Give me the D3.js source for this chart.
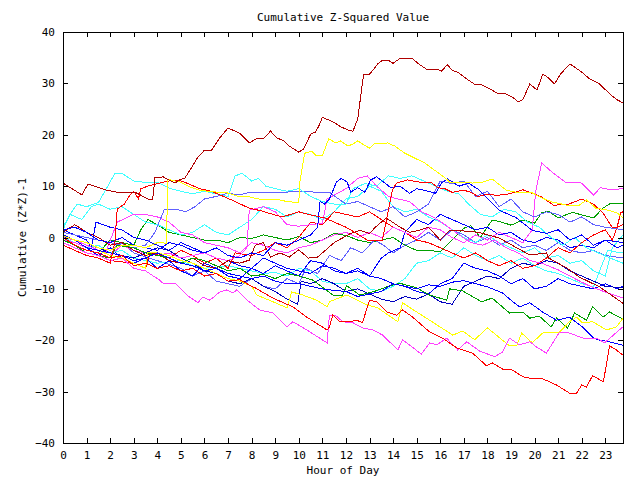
<!DOCTYPE html>
<html><head><meta charset="utf-8">
<script src="https://cdn.jsdelivr.net/npm/d3@7"></script>
<style>
body{margin:0;background:#fff;}
svg text{font-family:"DejaVu Sans Mono",monospace;font-size:11px;fill:#000;}
</style></head><body>
<svg id="c" width="640" height="480"></svg>
<script>
const chartTitle = "Cumulative Z-Squared Value";
const xTitle = "Hour of Day";
const yTitle = "Cumulative (Z*Z)-1";
const hourTicks = [0,1,2,3,4,5,6,7,8,9,10,11,12,13,14,15,16,17,18,19,20,21,22,23];
const valueTicks = [-40,-30,-20,-10,0,10,20,30,40];
const hourDomain = [0, 23.75];
const valueDomain = [-40, 40];

// each series: [hour, cumulative value]
const darkRedTop = [[0,10.6],[0.8,8.3],[1.06,10.4],[1.86,9.2],[2.4,8.7],[3.1,8.7],[3.7,7.3],[3.8,7.3],[3.9,11.6],[4.25,11.8],[4.5,11.2],[4.75,10.6],[4.95,11.2],[5.17,11.6],[5.47,13.7],[5.7,15.5],[6.0,17.0],[6.3,17.0],[6.65,19.4],[7.0,21.3],[7.5,20.3],[7.9,18.4],[8.2,19.2],[8.5,19.2],[8.8,20.7],[9.07,19.4],[9.36,18.8],[9.6,17.8],[10.0,16.6],[10.2,17.2],[10.5,20.1],[10.7,20.5],[10.85,21.7],[11.0,23.4],[11.2,23.0],[11.5,22.4],[11.8,21.5],[12.1,20.9],[12.3,20.7],[12.5,23.1],[12.6,26.6],[12.75,31.8],[13.0,31.8],[13.15,32.6],[13.35,33.8],[13.55,34.5],[13.8,34.5],[14.0,33.9],[14.3,34.9],[14.8,34.9],[15.05,33.9],[15.4,32.8],[15.6,32.6],[15.85,32.8],[16.05,32.4],[16.3,33.6],[16.5,32.6],[16.8,32.0],[17.2,30.6],[17.5,29.7],[17.75,29.7],[18.2,28.7],[18.4,28.1],[18.7,28.1],[19.07,27.3],[19.3,26.4],[19.5,26.8],[19.8,29.9],[20.1,28.7],[20.35,31.8],[20.55,31.2],[20.85,29.9],[21.1,31.8],[21.5,33.8],[22.0,32.2],[22.3,31.0],[22.75,29.9],[23.2,27.9],[23.5,26.8],[23.75,26.2]];
const yellowTop = [[0,0.3],[0.5,-0.5],[1,-1],[1.5,-2],[2,-2.5],[2.5,-1.5],[3,-1.5],[3.5,-2],[4,-1],[4.38,-1.1],[4.45,11.2],[4.55,11.2],[4.95,10.8],[5.4,9.8],[5.8,9.2],[6.35,8.9],[6.95,8.7],[7.5,7.9],[7.9,7.9],[8.5,7.3],[9,7.5],[9.5,7.0],[10.0,6.8],[10.05,11],[10.25,16.4],[10.55,16.8],[10.75,15.9],[11.0,15.9],[11.27,19.2],[11.57,18.4],[11.78,18.8],[12.08,17.8],[12.3,18.2],[12.5,18.8],[12.7,18.2],[13.0,17.4],[13.2,18.2],[13.77,18.4],[14.07,17.8],[14.5,16.4],[14.9,15.5],[15.34,14.5],[15.76,13.1],[16.2,11.6],[16.4,10.8],[16.8,10.8],[17.37,10.6],[17.8,10.8],[18.2,11.4],[18.8,9.2],[19.36,8.7],[19.9,8.7],[20.3,7.7],[20.76,6.9],[21.36,6.3],[21.9,6.3],[22.2,7.3],[22.6,5.7],[23.05,5.4],[23.5,4.8],[23.75,3.8]];
const redBottom = [[0,0],[0.5,-1.5],[1,-2.5],[1.5,-3],[2,-4],[2.5,-3.5],[3,-5.5],[3.5,-5],[4,-6],[4.5,-5.5],[5,-6.5],[5.5,-6],[6,-7.5],[6.5,-7],[7,-8.5],[7.5,-8.2],[8,-9.5],[8.15,-9.8],[8.9,-11.8],[9.75,-13.5],[10.34,-15.5],[11.2,-18.0],[11.3,-17.4],[11.44,-15.1],[11.74,-16.4],[12.16,-16.4],[12.46,-16.1],[12.7,-16.6],[13.0,-12.2],[13.3,-12.5],[13.73,-14.5],[14.15,-15.1],[14.4,-14.1],[14.83,-15.5],[15.55,-18.4],[16.1,-19.6],[16.7,-21.5],[16.95,-21.9],[17.37,-22.5],[17.97,-25.0],[18.2,-24.4],[18.64,-25.6],[19.07,-25.8],[19.5,-27.1],[19.9,-27.5],[20.34,-27.5],[20.93,-28.7],[21.48,-30.3],[21.78,-30.3],[22.0,-28.7],[22.2,-29.1],[22.46,-26.9],[22.92,-28.1],[23.18,-21.1],[23.47,-21.9],[23.75,-22.9]];
const magentaBottom = [[0,-1],[0.5,-2],[1,-3],[1.5,-3.5],[2,-4.5],[2.5,-4],[3,-6],[3.5,-6.5],[4,-8],[4.1,-8.3],[4.24,-8.9],[4.75,-8.9],[5.25,-11.2],[5.72,-12.7],[5.93,-11.6],[6.23,-12.2],[6.65,-10.6],[6.95,-10.2],[7.2,-10.8],[7.37,-10.2],[7.8,-12.2],[8.35,-14.1],[8.9,-14.7],[9.5,-17.4],[9.75,-16.4],[10.34,-18.0],[11.2,-20.5],[11.3,-15.1],[11.6,-15.3],[11.86,-16.4],[12.3,-16.6],[12.7,-17.6],[13.14,-18.0],[13.56,-19.0],[14.2,-21.9],[14.4,-19.9],[15.2,-22.7],[15.55,-20.5],[15.85,-20.9],[16.27,-19.6],[16.74,-21.9],[17.12,-20.3],[17.67,-22.1],[18.3,-23.2],[18.64,-22.3],[18.94,-19.6],[19.36,-20.9],[19.8,-20.3],[20.08,-21.3],[20.5,-22.5],[21.06,-18.4],[21.48,-18.6],[22.12,-19.7],[22.63,-19.6],[22.97,-20.5],[23.69,-17.6],[23.75,-17.4]];
const yellowLow = [[0,0.5],[0.5,-0.5],[1,-2],[1.5,-2.5],[2,-3.5],[2.5,-4],[3,-5],[3.5,-6],[3.6,-3],[4,-3],[4.5,-3.5],[5,-4.5],[5.5,-5],[6,-6],[6.5,-7],[7,-8],[7.5,-8.5],[8,-9.5],[8.22,-11.2],[8.9,-12.5],[9.5,-13.7],[9.7,-10.6],[10.17,-11.2],[10.76,-12.2],[11.2,-13.5],[11.3,-12.5],[12.03,-11.2],[12.88,-13.1],[13.35,-13.7],[14.2,-16.4],[14.4,-12.7],[15.0,-14.5],[15.55,-16.1],[16.53,-19.0],[16.95,-18.2],[17.46,-19.9],[18.0,-17.6],[18.94,-21.1],[19.24,-21.1],[19.45,-18.6],[19.9,-20.5],[20.34,-18.6],[21.06,-18.4],[21.48,-16.4],[21.78,-15.5],[22.03,-16.6],[22.46,-16.4],[23.05,-18.0],[23.47,-17.4],[23.75,-15.7]];
const greenLow = [[0,-0.5],[0.5,-1.5],[1,-3],[1.5,-3.5],[2,-4],[2.3,-1.5],[3,-2],[3.5,-3],[4,-3.5],[4.5,-4],[5,-5],[5.5,-4],[6,-4.5],[6.5,-5.5],[7,-6.5],[7.5,-6],[8,-7.5],[8.5,-7.2],[9,-8],[9.5,-7],[10,-7.5],[10.6,-8.3],[11.44,-11.2],[11.86,-11.2],[12.03,-9.4],[12.58,-11.2],[13.2,-10.5],[13.8,-9.5],[14.28,-8.9],[15.0,-9.8],[15.55,-11.2],[16.27,-12.2],[16.4,-10.0],[16.95,-10.4],[17.75,-12.5],[18.2,-11.8],[18.94,-14.7],[19.5,-14.5],[19.8,-15.7],[20.2,-15.3],[20.7,-17.4],[20.93,-15.7],[21.4,-17.6],[21.7,-14.7],[22.2,-16.1],[22.46,-13.5],[22.9,-15.5],[23.18,-14.5],[23.75,-15.9]];
const blueLow = [[0,0.5],[0.5,-0.5],[1,-2],[1.5,-2.5],[2,-3],[2.5,-3.5],[3,-4.5],[3.5,-4],[4,-3],[4.5,-4],[5,-5],[5.5,-5.5],[6,-6.5],[6.5,-6],[7,-7],[7.5,-7.5],[8,-8],[8.5,-7.5],[9,-8.5],[9.5,-9],[10,-9],[10.5,-9.5],[11,-10],[11.5,-10.3],[12,-10.5],[12.5,-11.5],[13,-11],[13.5,-10.5],[14,-9],[14.5,-9.5],[15,-10],[15.5,-9.2],[16,-9.5],[16.5,-8.7],[17,-8.4],[17.5,-9],[18,-9.6],[18.64,-10.8],[19.0,-12.2],[19.36,-13.5],[19.8,-12.7],[20.34,-14.5],[20.93,-16.1],[21.48,-15.5],[22.03,-17.4],[22.46,-19.4],[22.67,-19.9],[23.18,-20.3],[23.75,-21.0]];
const darkRedMid = [[0,1],[0.5,2.5],[1,1],[1.5,0],[2,-1.5],[2.5,-1],[3,-2.5],[3.5,-3.5],[4,-3],[4.5,-4.5],[5,-5],[5.5,-4],[6,-5.5],[6.5,-6],[7,-4.5],[7.5,-5],[7.9,-4.4],[8.15,-1.5],[8.5,-1],[8.8,-3.8],[9.2,-3],[9.6,-3.8],[10,-2.4],[10.4,-4],[10.8,-3.8],[11.5,-1],[12.2,0.8],[12.6,1.4],[13,0.8],[13.25,2.0],[13.7,3.8],[14.3,2.0],[14.7,1.0],[15.1,1.4],[15.5,2],[16,-0.5],[16.4,1.4],[17.3,1.2],[17.7,0.9],[18.5,-0.1],[19.4,-2.4],[19.8,-3.4],[20.5,-3],[20.6,-4],[21.35,-5.9],[21.9,-7.7],[22.75,-9.6],[23.75,-12.8]];
const magentaMid = [[0,-0.5],[0.5,-1],[1,-2],[1.5,-2.5],[2,-3.5],[2.5,-1.5],[3,-2.5],[3.5,-3],[4,-3.5],[4.5,-3],[5,-4],[5.5,-3.5],[6,-3],[6.5,-4],[7,-4.5],[7.5,-3.5],[7.8,-2],[7.9,5.3],[8.5,6],[9,5],[9.5,2.5],[10,2.2],[10.5,2.5],[11,2.8],[11.2,7.5],[11.6,8.5],[12,9.5],[12.5,11.5],[12.9,12],[13.3,10],[13.8,8],[14.2,7.5],[14.7,7],[15.2,5],[15.7,4],[16.2,2.5],[16.8,0.5],[17.3,-1],[17.8,-1.5],[18.3,-0.5],[18.8,-2],[19.3,-3],[19.8,-4.5],[20.3,-5],[21,-6.3],[21.5,-7.5],[22,-8.7],[22.5,-9.8],[23,-10.6],[23.75,-11.8]];
const magentaUpper = [[0,0],[0.5,-0.5],[1,-1.5],[1.8,-3],[2.3,3],[3,4.5],[3.5,4.5],[4,4],[4.5,3],[5,1],[5.5,0.5],[6,-1],[6.5,-1.5],[7,-2],[7.5,-3],[8,-1],[8.5,-1.5],[9,-2.5],[9.5,-3],[10,-2],[10.5,-1.5],[11,-0.5],[11.5,0.5],[12,1],[12.5,0],[13,1],[13.5,0],[14,2],[14.5,1],[15,0],[15.5,2],[16,1.5],[16.5,0],[17,-1],[17.5,0.5],[18,-0.5],[18.5,1],[19,0],[19.5,-1],[19.9,1.5],[20.05,9],[20.3,14.5],[20.8,12.5],[21.3,10.8],[22,10.6],[22.5,8.3],[22.8,9.7],[23.2,9.3],[23.75,9.5]];
const blueUpper = [[0,1.5],[0.5,2],[1,1],[1.5,-0.5],[2,-1],[2.5,0],[3,-1.5],[3.5,-2],[4,-2.5],[4.5,-1],[5,-1.5],[5.5,-2.5],[6,-3],[6.5,-2],[7,-3.5],[7.5,-4],[8,-3],[8.5,-3.5],[9,-1],[9.5,-1.5],[10,-0.5],[10.5,0.5],[10.8,2],[10.9,7],[11.1,6.5],[11.3,7.5],[11.6,10.8],[11.8,11.5],[12.05,10.8],[12.2,8.8],[12.5,9.7],[12.8,8.8],[13.05,11.2],[13.3,11.8],[13.6,10.8],[13.9,9.7],[14.3,10],[14.7,8.6],[15,9.5],[15.5,9],[15.8,8.6],[16.05,10.6],[16.3,11.4],[16.8,10],[17.2,10.6],[17.6,9.4],[18.5,5.3],[19.2,3.9],[19.9,1.4],[20.5,0.8],[21,1.5],[21.5,-0.5],[22,0.5],[22.5,-1.5],[23,-0.5],[23.5,-2],[23.75,-1.5]];
const slateUpper = [[0,1],[0.5,0.5],[1,0],[1.5,-0.5],[2,-1],[2.5,-1.5],[3,-2],[3.5,-1.5],[3.9,1],[4.3,5.5],[4.8,5.5],[5.2,5],[5.6,6],[6,7.5],[6.5,8],[7,8.6],[7.5,8.3],[7.9,8.8],[9,8.8],[10,8.9],[11.3,8.8],[11.6,7.8],[12,6.5],[12.5,7],[13,6],[13.5,5],[14,6],[14.5,4],[15,5],[15.5,6.5],[16,11],[16.5,10.5],[17,11],[17.5,8],[18,9],[18.5,6],[19,7.5],[19.5,5],[20,4],[20.5,5],[21,4.5],[21.5,3],[22,4],[22.5,2.5],[23,2],[23.75,1.5]];
const cyanUpper = [[0,1.5],[0.3,4.5],[0.6,6.5],[1,6],[1.5,6.8],[1.9,10],[2.2,12.5],[2.5,12.5],[3,11],[3.5,10.7],[4,10.8],[4.5,9.6],[5,9],[5.5,8.5],[6,9],[6.5,8.5],[7,8],[7.3,12],[7.6,12.5],[8,11],[8.3,11.5],[8.6,10],[9,9.5],[9.5,9],[10,9.5],[10.5,8],[11,7],[11.5,6.5],[12,6.5],[12.3,9.5],[12.8,10.5],[13.3,10],[13.8,12],[14.3,11.5],[14.8,12],[15.3,11],[15.8,10],[16.3,9],[16.8,8.5],[17.2,6.5],[17.7,4.5],[18.2,4],[18.7,5.5],[19.2,5],[19.7,3],[20.2,2],[20.7,0],[21.2,-1.5],[21.7,0],[22.2,-2],[22.7,-3],[23.2,-4],[23.75,-5]];
const cyanMid = [[0,2],[0.3,4.5],[0.8,3.5],[1.2,6],[1.5,6.5],[2,5.5],[2.5,6],[3,4.5],[3.5,3],[4,2.5],[4.5,1.5],[5,0.5],[5.5,1],[6,2.5],[6.5,1],[7,0.5],[7.5,2],[8,3.5],[8.5,6],[9,5.5],[9.5,4],[10,5],[10.5,4.5],[11,3.5],[11.5,5],[12,7.5],[12.5,8],[13,10],[13.5,9],[14,6],[14.5,5],[15,5.5],[15.5,4],[16,3],[16.5,1.5],[17,0],[17.5,-1],[18,0.5],[18.5,-1],[19,-2],[19.5,-3],[20,-2],[20.5,-4],[21,-3.5],[21.5,-5],[22,-4.5],[22.5,-6.5],[23,-7.5],[23.3,-2],[23.75,0.5]];
const cyanLow = [[0,0],[0.5,-1],[1,-2],[1.5,-1.5],[2,-3],[2.5,-2.5],[3,-4],[3.5,-4.5],[4,-5],[5,-4.5],[5.5,-5.5],[6,-6],[7,-5.5],[8,-6.5],[8.5,-7],[9,-6.8],[9.5,-7.5],[10,-6],[10.5,-6.5],[11,-8.5],[11.5,-9],[12,-9],[12.5,-8],[13,-10],[13.5,-10.5],[14,-9.5],[14.5,-8],[15,-5],[15.5,-4.5],[16,-3],[16.5,-4],[17,-2],[17.5,-3.5],[18,-4.5],[18.5,-3.5],[19,-5],[19.5,-4],[20,-5.5],[20.5,-6.5],[21,-7],[21.5,-8],[22,-9],[22.5,-9.6],[22.8,-6],[23.1,-2.5],[23.4,-2.8],[23.75,-3]];
const redUpper = [[0,-1.5],[0.5,-2.5],[1,-3.5],[1.5,-4],[2,-5],[2.2,-1],[2.3,5.5],[2.6,6.5],[2.8,8],[3,9],[3.2,7.5],[3.3,9.5],[3.6,10],[4,10.5],[4.5,11],[5,11],[5.3,10.5],[5.8,9.5],[6.3,9],[6.8,8],[7.3,7],[7.9,5.7],[8.4,5.2],[8.9,4.5],[9.3,4.0],[10.0,5.0],[10.4,4.5],[11.1,3.8],[11.5,3.0],[12.0,2.0],[12.45,0.8],[12.9,-0.5],[13.55,-0.5],[13.97,9.3],[14.15,10.6],[14.6,11.2],[15.1,10.8],[15.6,10.8],[15.9,9.7],[16.2,9.5],[16.5,8.8],[17.0,9.2],[17.3,8.8],[17.6,8.0],[18.0,8.4],[18.4,8.2],[18.8,8.4],[19.2,8.8],[19.5,9.3],[20.3,7.9],[20.8,6.3],[21.4,6.4],[22.0,7.5],[22.5,6.5],[22.9,4.8],[23.3,1.9],[23.5,2.0],[23.65,4.8],[23.75,5.0]];
const redMid = [[0,-1],[0.5,-2],[1,-3],[1.5,-3.5],[2,-4.5],[3,-5],[3.5,-6],[3.7,-3],[4.5,-4],[5,-2.5],[5.5,-3.5],[6,-5],[6.5,-4],[7,-6],[7.3,-3],[8,-3.5],[8.5,-2.5],[9,-1],[9.5,-2],[10,0],[10.5,3],[11,2.5],[11.5,5],[12,4.5],[12.5,4],[13,5],[13.5,3.5],[14,2],[14.5,1],[15,-0.5],[15.5,-1],[16,-2],[16.5,-3],[17,-4],[17.5,-3],[18,-4.5],[18.5,-5.5],[19,-4.5],[19.5,-6],[20,-5.5],[20.5,-4],[21,-2],[21.5,-3],[22,-1],[22.5,0.5],[23,1.5],[23.3,-0.5],[23.5,2],[23.75,2.5]];
const greenMid = [[0,-0.5],[0.5,-1.5],[1,-2.5],[1.5,-3],[2,-0.5],[2.5,-1],[3,-1.5],[3.3,1.5],[3.6,3.5],[4,2.5],[4.5,1],[5,0.5],[5.5,0],[6,-0.5],[6.5,-0.5],[7,-1],[7.5,0],[8,-0.2],[8.5,0.5],[9,0],[9.5,-0.5],[10,0.2],[10.5,-1],[11,-0.5],[11.5,0.8],[12,0.4],[12.5,-0.5],[13,-1],[13.5,-0.5],[14,0],[14.5,-1.5],[15,-2.5],[15.5,-2.5],[16,-2.8],[16.5,-0.5],[17,1.8],[17.3,2.3],[17.7,0],[18.2,3.4],[18.6,3],[19.0,2.4],[19.5,3.4],[20,2.8],[20.3,4.8],[20.6,5.1],[21.0,3.8],[21.6,4.9],[22,4.4],[22.5,3.8],[22.9,5.7],[23.2,6.6],[23.75,6.6]];
const slateLow = [[0,0],[0.5,-0.5],[1,-1.5],[2,-2.5],[2.5,-1],[3,-3],[4,-4.5],[5,-6],[5.5,-7.5],[6,-6.5],[6.5,-8.5],[7,-9],[7.5,-9.5],[8,-8],[8.5,-9.5],[9,-10],[9.5,-8],[10,-9],[10.3,-6],[10.8,-7],[11.3,-3.5],[11.8,-4.5],[12.2,-2],[12.7,-3],[13.2,-0.5],[13.6,-1.5],[14,-3],[14.5,-1.5],[15,-0.5],[15.5,1],[16,-0.5],[16.5,1.5],[17,0.5],[17.5,-1],[18,0],[18.5,-1.5],[19,-0.5],[19.5,-2],[20,-1.5],[20.5,-2.5],[21,-1],[21.5,-2.5],[22,-3],[22.5,-2.5],[23,-3.5],[23.75,-4]];
const blueMidA = [[0,-0.5],[0.5,-1],[1,-2],[1.5,-3.5],[2,-2],[2.5,-4],[3,-5],[3.5,-4],[4,-6],[4.5,-4.5],[5,-6.5],[5.5,-7.5],[6,-5],[6.5,-6],[7,-7.5],[7.5,-8],[8,-6],[8.5,-7],[9,-5.5],[9.5,-6.5],[10,-7.5],[10.5,-4.5],[11,-5],[11.5,-6.5],[12,-7],[12.5,-6],[13,-7.5],[13.5,-8],[14,-9],[14.5,-9.5],[15,-10.5],[15.5,-11],[16,-9],[16.5,-8],[17,-5],[17.5,-6],[18,-6.5],[18.5,-7.5],[19,-9],[19.5,-8],[20,-10],[20.5,-9.5],[21,-8],[21.5,-9],[22,-9.5],[22.5,-10],[23,-9],[23.5,-10],[23.75,-9.5]];
const blueMidB = [[0,1.5],[0.5,0.5],[1,-0.5],[1.2,-2],[1.4,3],[2,2],[2.5,1.5],[3,0],[3.5,-0.5],[4,-1.5],[4.5,-2.5],[5,-1],[5.5,-2],[6,-3],[6.5,-4],[7,-4.5],[7.5,-5.5],[8,-6],[8.5,-4],[9,-5],[9.5,-6],[10,-6.5],[10.5,-7],[11,-5.5],[11.5,-6],[12,-7],[12.5,-6.5],[13,-7.5],[13.5,-4],[13.8,-3],[14.3,-2],[14.5,1],[15,3.5],[15.5,2.5],[16,4.5],[16.5,3.5],[17,2.5],[17.5,1.5],[18,2],[18.5,0.5],[19,1],[19.5,-0.5],[20,-1],[20.5,0],[21,-0.5],[21.5,-2],[22,-1.5],[22.5,-2],[23,-0.5],[23.75,-1]];
const navyMid = [[0,0.2],[0.5,-0.5],[1,-1],[2,-3],[3,-4],[3.5,-3],[4,-2],[4.5,-2.5],[5,-4],[5.5,-5],[6,-6.5],[6.5,-7],[7,-8.5],[7.5,-9],[8,-8],[8.5,-9.5],[9,-10.5],[9.5,-12],[9.95,-13],[10.1,-8.5],[10.5,-9],[11,-8],[11.5,-9],[12,-10.5],[12.5,-10],[13,-11],[13.5,-12],[14,-12.5],[14.5,-11.5],[15,-12],[15.5,-11],[16,-12.5],[16.5,-13],[17,-9.5],[17.5,-8.5],[18,-7.5],[18.5,-8],[19,-6],[19.5,-5],[20,-5.5],[20.5,-4.5],[21,-5],[21.5,-6.5],[22,-7.5],[22.5,-8.5],[23,-9.5],[23.75,-9.8]];

const seriesNames = ["greenMid","slateLow","cyanLow","cyanMid","blueMidA","blueMidB","navyMid","redMid","magentaMid","magentaUpper","slateUpper","darkRedMid","greenLow","yellowLow","blueLow","magentaBottom","redBottom","cyanUpper","blueUpper","redUpper","yellowTop","darkRedTop"];
const seriesData = [greenMid,slateLow,cyanLow,cyanMid,blueMidA,blueMidB,navyMid,redMid,magentaMid,magentaUpper,slateUpper,darkRedMid,greenLow,yellowLow,blueLow,magentaBottom,redBottom,cyanUpper,blueUpper,redUpper,yellowTop,darkRedTop];
const seriesColors = ["#00a000","#6060ff","#40ffff","#40ffff","#0000ff","#0000ff","#0000c0","#ff0000","#ff40ff","#ff40ff","#6060ff","#b00000","#00a000","#ffff00","#0000ff","#ff40ff","#ff0000","#40ffff","#0000ff","#ff0000","#ffff00","#b00000"];

(function(){
const svg = d3.select("#c");
const pL = 63, pR = 623, pT = 32, pB = 443;
const x = d3.scaleLinear().domain(hourDomain).range([pL, pR]);
const y = d3.scaleLinear().domain(valueDomain).range([pB, pT]);

svg.append("defs").append("clipPath").attr("id","pa")
  .append("rect").attr("x",pL).attr("y",pT).attr("width",pR-pL).attr("height",pB-pT);

const line = d3.line().x(d => x(d[0])).y(d => y(d[1]));
const gl = svg.append("g").attr("clip-path","url(#pa)");
seriesData.forEach((s,i) => {
  gl.append("path").datum(s).attr("d", line)
    .attr("fill","none").attr("stroke", seriesColors[i]).attr("stroke-width",1)
    .attr("shape-rendering","crispEdges").attr("data-name", seriesNames[i]);
});

function styleAxis(g){
  g.attr("font-family",null).attr("font-size",null);
  g.selectAll("path,line").attr("stroke","#000").attr("shape-rendering","crispEdges");
}
svg.append("g").attr("transform",`translate(0,${pB})`)
  .call(d3.axisBottom(x).tickValues(hourTicks).tickFormat(d3.format("d")).tickSizeInner(-5).tickSizeOuter(0).tickPadding(8)).call(styleAxis);
svg.append("g").attr("transform",`translate(0,${pT})`)
  .call(d3.axisTop(x).tickValues(hourTicks).tickFormat("").tickSizeInner(-5).tickSizeOuter(0)).call(styleAxis);
svg.append("g").attr("transform",`translate(${pL},0)`)
  .call(d3.axisLeft(y).tickValues(valueTicks).tickFormat(d3.format("d")).tickSizeInner(-5).tickSizeOuter(0).tickPadding(8)).call(styleAxis);
svg.append("g").attr("transform",`translate(${pR},0)`)
  .call(d3.axisRight(y).tickValues(valueTicks).tickFormat("").tickSizeInner(-5).tickSizeOuter(0)).call(styleAxis);

svg.append("text").attr("x",(pL+pR)/2).attr("y",21).attr("text-anchor","middle").text(chartTitle);
svg.append("text").attr("x",(pL+pR)/2).attr("y",474).attr("text-anchor","middle").text(xTitle);
svg.append("text").attr("transform",`translate(26,${(pT+pB)/2}) rotate(-90)`).attr("text-anchor","middle").text(yTitle);
})();
</script></body></html>
